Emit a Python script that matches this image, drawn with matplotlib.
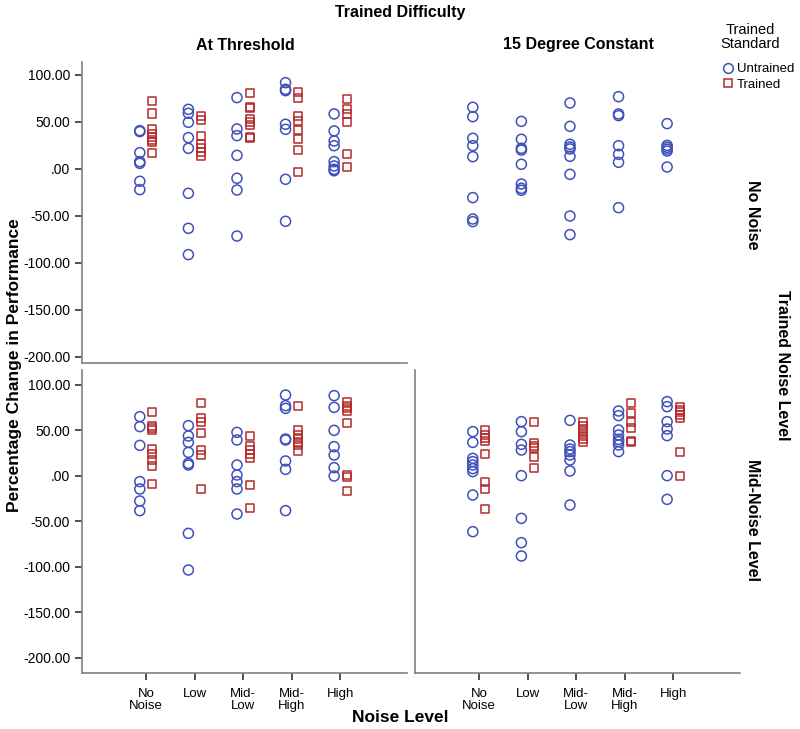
import matplotlib
matplotlib.use("Agg")
import matplotlib.pyplot as plt
from matplotlib.lines import Line2D

plt.rcParams['font.family'] = ['Liberation Sans', 'DejaVu Sans']

categories = ["No\nNoise", "Low", "Mid-\nLow", "Mid-\nHigh", "High"]
yticks = [100, 50, 0, -50, -100, -150, -200]
ytick_labels = ["100.00", "50.00", ".00", "-50.00", "-100.00", "-150.00", "-200.00"]

# Top-left: At Threshold, No Noise
tl_untrained = [
    [40.7, 39.7, 17.3, 7.7, 5.9, -13.2, -22.1],
    [63.4, 59.2, 49.6, 33.3, 21.9, -26.0, -63.3, -91.3],
    [75.9, 42.5, 35.4, 14.4, -10.0, -22.5, -71.5],
    [91.8, 84.7, 83.3, 47.5, 42.1, -11.1, -55.8],
    [58.5, 40.4, 29.7, 24.7, 7.7, 3.1, -0.5, -2.0],
]
tl_trained = [
    [72.0, 59.0, 42.0, 37.0, 34.0, 31.0, 29.0, 17.0],
    [56.7, 52.1, 35.0, 26.5, 22.0, 17.6, 14.1],
    [80.5, 66.3, 65.2, 52.8, 49.6, 46.7, 34.3, 32.5],
    [82.3, 75.2, 56.3, 51.0, 41.4, 31.8, 20.1, -3.3],
    [74.4, 63.4, 58.5, 50.3, 15.5, 2.0],
]
# Top-right: 15 Degree Constant, No Noise
tr_untrained = [
    [65.6, 55.6, 32.6, 24.7, 13.0, -30.6, -53.4, -56.2],
    [50.6, 31.5, 21.9, 20.0, 4.9, -16.1, -20.7, -22.8],
    [70.2, 45.3, 26.2, 23.3, 21.2, 13.4, -5.8, -50.2, -70.0],
    [76.9, 58.5, 56.7, 24.7, 15.5, 7.0, -41.3],
    [48.2, 25.0, 23.0, 21.0, 19.0, 2.0],
]
tr_trained = [[], [], [], [], []]
# Bottom-left: At Threshold, Mid-Noise Level
bl_untrained = [
    [65.2, 54.2, 33.6, -6.3, -14.4, -27.6, -38.2],
    [55.3, 43.9, 36.9, 25.9, 13.8, 12.0, -63.2, -103.5],
    [47.9, 39.5, 12.0, 1.0, -6.3, -14.4, -41.9],
    [89.0, 77.3, 74.3, 40.6, 39.5, 16.4, 7.2, -38.2],
    [88.3, 75.4, 50.1, 32.2, 23.0, 9.1, -0.1],
]
bl_trained = [
    [70.3, 55.3, 52.3, 50.5, 29.6, 23.7, 17.5, 11.3, -8.9],
    [80.2, 63.3, 59.7, 46.8, 28.5, 23.0, -14.4],
    [43.9, 33.3, 28.5, 23.7, 19.3, -10.0, -35.3],
    [77.3, 50.1, 45.0, 40.6, 37.7, 34.0, 27.4],
    [80.9, 77.3, 74.3, 71.4, 58.6, 1.0, -0.8, -16.6],
]
# Bottom-right: 15 Degree Constant, Mid-Noise Level
br_untrained = [
    [48.7, 36.9, 19.3, 15.7, 12.0, 8.0, 4.7, -21.0, -61.3],
    [59.7, 48.7, 34.7, 28.5, 0.3, -46.7, -73.4, -88.1],
    [61.1, 34.0, 29.6, 26.7, 23.0, 17.5, 5.4, -32.0],
    [71.4, 66.3, 50.5, 45.0, 40.2, 37.7, 34.0, 26.7],
    [81.7, 76.2, 59.7, 51.6, 44.3, 0.3, -25.8],
]
br_trained = [
    [50.5, 45.0, 41.3, 38.4, 24.5, -6.3, -14.8, -36.8],
    [59.7, 35.8, 33.3, 30.3, 21.2, 8.3],
    [58.9, 55.3, 51.6, 47.9, 44.3, 40.6, 36.9],
    [79.8, 68.8, 58.9, 52.3, 38.4, 36.9],
    [75.4, 72.5, 69.9, 67.0, 64.1, 26.7, -0.1],
]

BLUE = "#3F51B8"
RED = "#B52A2A"
GRAY = "#808080"
W, H = 800, 729

fig = plt.figure(figsize=(8.0, 7.29), dpi=100)

def ax_at(x0, x1, y0, y1):
    return fig.add_axes([x0 / W, 1 - y1 / H, (x1 - x0) / W, (y1 - y0) / H])

axes = {
    "tl": ax_at(82, 407, 62, 363),
    "tr": ax_at(415, 740, 62, 363),
    "bl": ax_at(82, 407, 370, 673),
    "br": ax_at(415, 740, 370, 673),
}
data = {
    "tl": (tl_untrained, tl_trained),
    "tr": (tr_untrained, tr_trained),
    "bl": (bl_untrained, bl_trained),
    "br": (br_untrained, br_trained),
}
off = 0.13
for key, ax in axes.items():
    unt, tr = data[key]
    for i, vals in enumerate(unt):
        ax.scatter([i - off] * len(vals), vals, s=52, marker='o', facecolors='none',
                   edgecolors=BLUE, linewidths=1.1, zorder=3)
    for i, vals in enumerate(tr):
        if vals:
            ax.scatter([i + off] * len(vals), vals, s=34, marker='s', facecolors='none',
                       edgecolors=RED, linewidths=1.1, zorder=3)
    ax.set_xlim(-1.32, 5.37)
    if key.startswith("t"):
        ax.set_ylim(-206.7, 113.8)
    else:
        ax.set_ylim(-216.8, 116.5)
    for s in ax.spines.values():
        s.set_visible(False)
        s.set_color(GRAY)
        s.set_linewidth(1.2)
    ax.tick_params(axis='both', colors='#333333', length=5, width=1.2,
                   labelsize=10, labelcolor='black')
    ax.tick_params(axis='x', pad=6, labelsize=9.5)
    ax.set_facecolor('none')

for key in ["tl", "bl", "br"]:
    axes[key].spines['left'].set_visible(True)
    axes[key].spines['bottom'].set_visible(True)

for key in ["tl", "bl"]:
    axes[key].set_yticks(yticks)
    axes[key].set_yticklabels(ytick_labels)
for key in ["tr", "br"]:
    axes[key].set_yticks([])
for key in ["tl", "tr"]:
    axes[key].set_xticks([])
for key in ["bl", "br"]:
    axes[key].set_xticks(range(len(categories)))
    axes[key].set_xticklabels(categories, linespacing=0.95)

fig.text(400 / W, 1 - 12 / H, "Trained Difficulty", ha='center', va='center',
         fontsize=11.5, fontweight='bold')
fig.text(245 / W, 1 - 45 / H, "At Threshold", ha='center', va='center',
         fontsize=11.5, fontweight='bold')
fig.text(578 / W, 1 - 45 / H, "15 Degree Constant", ha='center', va='center',
         fontsize=11.5, fontweight='bold')
fig.text(752 / W, 1 - 215 / H, "No Noise", ha='center', va='center', rotation=-90,
         fontsize=11.5, fontweight='bold')
fig.text(752 / W, 1 - 520 / H, "Mid-Noise Level", ha='center', va='center', rotation=-90,
         fontsize=11.5, fontweight='bold')
fig.text(783 / W, 1 - 365 / H, "Trained Noise Level", ha='center', va='center', rotation=-90,
         fontsize=11.5, fontweight='bold')
fig.text(15 / W, 1 - 365 / H, "Percentage Change in Performance", ha='center', va='center',
         rotation=90, fontsize=12.5, fontweight='bold')
fig.text(400 / W, 1 - 718 / H, "Noise Level", ha='center', va='center',
         fontsize=12.5, fontweight='bold')

# legend
fig.text(750 / W, 1 - 37 / H, "Trained\nStandard", ha='center', va='center',
         fontsize=10.5, linespacing=1.0)
handles = [
    Line2D([], [], marker='o', linestyle='none', markerfacecolor='none',
           markeredgecolor=BLUE, markersize=7, markeredgewidth=1.1, label='Untrained'),
    Line2D([], [], marker='s', linestyle='none', markerfacecolor='none',
           markeredgecolor=RED, markersize=5.5, markeredgewidth=1.1, label='Trained'),
]
fig.legend(handles=handles, loc='upper left', bbox_to_anchor=(721 / W, 1 - 63 / H),
           frameon=False, fontsize=9.5, handletextpad=0.2, labelspacing=0.25,
           borderpad=0, handlelength=1.0, borderaxespad=0)

fig.savefig("out.png", dpi=100)
